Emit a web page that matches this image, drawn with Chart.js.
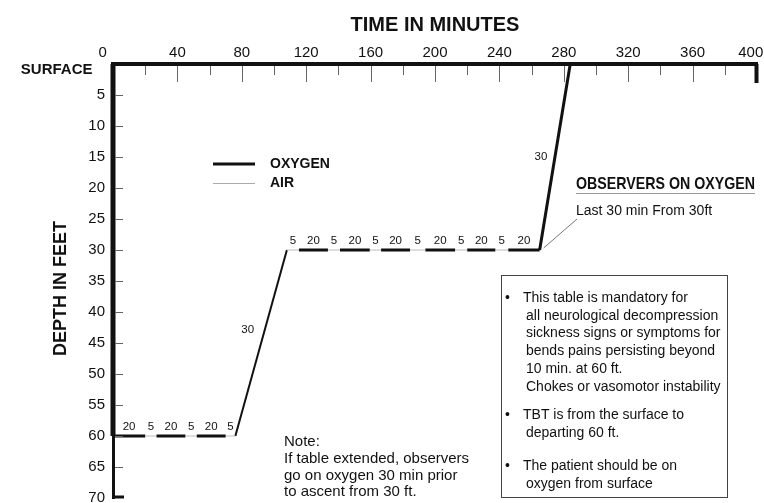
<!DOCTYPE html>
<html><head><meta charset="utf-8">
<script src="https://cdn.jsdelivr.net/npm/chart.js@4.4.0/dist/chart.umd.min.js"></script>
<style>html,body{margin:0;padding:0;background:#fff;}#wrap{width:764px;height:503px;position:relative;}</style>
</head><body><div id="wrap"><canvas id="c" width="764" height="503"></canvas></div>
<script>
const FONT = '"Liberation Sans", Arial, Helvetica, sans-serif';
// axes
const timeMin = 0, timeMax = 400, timeStep = 20, timeLabelEvery = 40;
const depthMin = 0, depthMax = 70, depthStep = 5;
const surfaceLabel = 'SURFACE';
const xTitle = 'TIME IN MINUTES';
const yTitle = 'DEPTH IN FEET';
// descent from surface to 60 ft
const descentTimes = [0, 0], descentDepths = [0, 60];
// 60 ft stop (phase boundaries in minutes, gas per phase, printed minutes)
const stop60Depth = 60;
const stop60Bounds = [0, 20, 27, 45, 52, 70, 76];
const stop60Gas = ['O2', 'AIR', 'O2', 'AIR', 'O2', 'AIR'];
const stop60Labels = ['20', '5', '20', '5', '20', '5'];
// 30 ft stop
const stop30Depth = 30;
const stop30Bounds = [108, 115.5, 133.5, 141, 159.5, 166.5, 184.5, 194, 212.5, 220, 237.5, 245.5, 265];
const stop30Gas = ['AIR', 'O2', 'AIR', 'O2', 'AIR', 'O2', 'AIR', 'O2', 'AIR', 'O2', 'AIR', 'O2'];
const stop30Labels = ['5', '20', '5', '20', '5', '20', '5', '20', '5', '20', '5', '20'];
// ascents
const ascent1Times = [76, 108], ascent1Depths = [60, 30], ascent1Label = '30';
const ascent2Times = [265, 284], ascent2Depths = [30, 0], ascent2Label = '30';
// legend / notes
const legendItems = ['OXYGEN', 'AIR'];
const observersTitle = 'OBSERVERS ON OXYGEN';
const observersSub = 'Last 30 min From 30ft';
const boxBullets = [
  ['This table is mandatory for', 'all neurological decompression', 'sickness signs or symptoms for', 'bends pains persisting beyond', '10 min. at 60 ft.', 'Chokes or vasomotor instability'],
  ['TBT is from the surface to', 'departing 60 ft.'],
  ['The patient should be on', 'oxygen from surface']
];
const noteLines = ['Note:', 'If table extended, observers', 'go on oxygen 30 min prior', 'to ascent from 30 ft.'];

// build line data
const oxygenData = [], airData = [];
function addPhases(bounds, gas, depth) {
  for (let i = 0; i < gas.length; i++) {
    const target = gas[i] === 'O2' ? oxygenData : airData;
    target.push({x: bounds[i], y: depth}, {x: bounds[i + 1], y: depth}, {x: bounds[i + 1], y: null});
  }
}
addPhases(stop60Bounds, stop60Gas, stop60Depth);
addPhases(stop30Bounds, stop30Gas, stop30Depth);
const toPts = (ts, ds) => ts.map((t, i) => ({x: t, y: ds[i]}));
const descentData = toPts(descentTimes, descentDepths);
const ascent1Data = toPts(ascent1Times, ascent1Depths);
const ascent2Data = toPts(ascent2Times, ascent2Depths);

const INK = '#111';

const overlay = {
  id: 'overlay',
  afterDraw(chart) {
    const ctx = chart.ctx, xs = chart.scales.x, ys = chart.scales.y, a = chart.chartArea;
    ctx.save();
    // inward ticks on time axis
    xs.ticks.forEach(t => {
      const v = t.value;
      if (v <= timeMin) return;
      const px = Math.round(xs.getPixelForValue(v)) + 0.5;
      if (v >= timeMax) {
        ctx.fillStyle = INK;
        ctx.fillRect(px - 3, a.top, 4, 19);
        return;
      }
      ctx.strokeStyle = '#666'; ctx.lineWidth = 1;
      ctx.beginPath(); ctx.moveTo(px, a.top + 2);
      ctx.lineTo(px, a.top + (v % timeLabelEvery === 0 ? 18 : 11)); ctx.stroke();
    });
    // inward ticks on depth axis
    ys.ticks.forEach(t => {
      const v = t.value;
      if (v <= depthMin) return;
      const py = Math.round(ys.getPixelForValue(v)) + 0.5;
      if (v >= depthMax) {
        ctx.fillStyle = INK;
        ctx.fillRect(a.left - 1, py - 3, 12, 3);
        return;
      }
      ctx.strokeStyle = '#666'; ctx.lineWidth = 1;
      ctx.beginPath(); ctx.moveTo(a.left + 2, py); ctx.lineTo(a.left + 10, py); ctx.stroke();
    });
    // phase minute labels
    ctx.fillStyle = INK; ctx.font = '11.5px ' + FONT; ctx.textAlign = 'center'; ctx.textBaseline = 'middle';
    const phaseLabels = (bounds, labels, depth) => {
      labels.forEach((lab, i) => {
        const px = xs.getPixelForValue((bounds[i] + bounds[i + 1]) / 2);
        const py = ys.getPixelForValue(depth) - 9;
        ctx.fillText(lab, px, py);
      });
    };
    phaseLabels(stop60Bounds, stop60Labels, stop60Depth);
    phaseLabels(stop30Bounds, stop30Labels, stop30Depth);
    // ascent labels
    const ascentLabel = (times, depths, lab, f, dx) => {
      const x0 = xs.getPixelForValue(times[0]), x1 = xs.getPixelForValue(times[1]);
      const y0 = ys.getPixelForValue(depths[0]), y1 = ys.getPixelForValue(depths[1]);
      ctx.fillText(lab, x0 + (x1 - x0) * f + dx, y0 + (y1 - y0) * f);
    };
    ascentLabel(ascent1Times, ascent1Depths, ascent1Label, 0.57, -17);
    ascentLabel(ascent2Times, ascent2Depths, ascent2Label, 0.5, -14);
    // legend
    ctx.textAlign = 'left';
    ctx.strokeStyle = INK; ctx.lineWidth = 3;
    ctx.beginPath(); ctx.moveTo(213, 164); ctx.lineTo(255, 164); ctx.stroke();
    ctx.strokeStyle = '#aaa'; ctx.lineWidth = 1;
    ctx.beginPath(); ctx.moveTo(213, 183.5); ctx.lineTo(255, 183.5); ctx.stroke();
    ctx.font = 'bold 14px ' + FONT; ctx.fillStyle = INK;
    ctx.fillText(legendItems[0], 270, 164);
    ctx.fillText(legendItems[1], 270, 183);
    // observers heading (condensed bold)
    ctx.save();
    ctx.font = 'bold 17px "Liberation Sans Narrow", ' + FONT;
    const w = ctx.measureText(observersTitle).width;
    ctx.translate(576, 184);
    ctx.scale(179 / w, 1);
    ctx.fillText(observersTitle, 0, 0);
    ctx.restore();
    ctx.strokeStyle = '#999'; ctx.lineWidth = 1;
    ctx.beginPath(); ctx.moveTo(576, 193.5); ctx.lineTo(755, 193.5); ctx.stroke();
    ctx.font = '14px ' + FONT; ctx.fillStyle = INK;
    ctx.fillText(observersSub, 576, 211);
    // leader line
    const ex = xs.getPixelForValue(stop30Bounds[stop30Bounds.length - 1]);
    const ey = ys.getPixelForValue(stop30Depth);
    ctx.strokeStyle = '#555'; ctx.lineWidth = 0.8;
    ctx.beginPath(); ctx.moveTo(ex + 4, ey - 2); ctx.lineTo(577, 219); ctx.stroke();
    // note box
    ctx.strokeStyle = '#444'; ctx.lineWidth = 1;
    ctx.strokeRect(501.5, 275.5, 226, 222);
    ctx.font = '14px ' + FONT; ctx.fillStyle = INK;
    const bulletY = [298, 415, 466];
    boxBullets.forEach((lines, bi) => {
      ctx.fillText('\u2022', 505, bulletY[bi]);
      lines.forEach((ln, li) => {
        ctx.fillText(ln, li === 0 ? 523 : 526, bulletY[bi] + li * 17.8);
      });
    });
    // note
    ctx.font = '15px ' + FONT;
    noteLines.forEach((ln, i) => ctx.fillText(ln, 284, 442 + i * 16.7));
    ctx.restore();
  }
};

new Chart(document.getElementById('c'), {
  type: 'line',
  data: {
    datasets: [
      {label: 'AIR', data: airData, borderColor: '#bbb', borderWidth: 1, pointRadius: 0, spanGaps: false, fill: false},
      {label: 'OXYGEN', data: oxygenData, borderColor: INK, borderWidth: 3, pointRadius: 0, spanGaps: false, fill: false, borderCapStyle: 'butt'},
      {label: 'Descent', data: descentData, borderColor: INK, borderWidth: 5, pointRadius: 0, fill: false, clip: 5},
      {label: 'Ascent 60-30', data: ascent1Data, borderColor: INK, borderWidth: 2, pointRadius: 0, fill: false},
      {label: 'Ascent 30-0', data: ascent2Data, borderColor: INK, borderWidth: 3, pointRadius: 0, fill: false}
    ]
  },
  options: {
    responsive: false, animation: false, devicePixelRatio: 1,
    layout: {padding: {top: 0, left: 0, right: 7, bottom: 5}},
    plugins: {legend: {display: false}, tooltip: {enabled: false}},
    scales: {
      x: {
        type: 'linear', position: 'top', min: timeMin, max: timeMax,
        ticks: {
          stepSize: timeStep, autoSkip: false, maxRotation: 0, padding: 2, color: INK,
          font: {family: FONT, size: 15},
          callback: v => v % timeLabelEvery === 0 ? (v === timeMin ? '0     ' : v === timeMax ? String(v) + '   ' : String(v)) : ''
        },
        grid: {display: true, drawOnChartArea: false, drawTicks: false},
        border: {display: true, width: 4, color: INK},
        title: {display: true, text: xTitle, color: INK, font: {family: FONT, size: 20, weight: 'bold'}, padding: {top: 13, bottom: 0}},
        afterFit: s => { s.height = 64; s.paddingLeft = 0; s.paddingRight = 0; }
      },
      y: {
        type: 'linear', position: 'left', reverse: true, min: depthMin, max: depthMax,
        ticks: {
          stepSize: depthStep, autoSkip: false, padding: 8, color: INK,
          font: c => (c.tick && c.tick.value === 0) ? {family: FONT, size: 15, weight: 'bold', lineHeight: 0.8} : {family: FONT, size: 15},
          callback: v => v === 0 ? ['', surfaceLabel + '   '] : String(v)
        },
        grid: {display: true, drawOnChartArea: false, drawTicks: false},
        border: {display: true, width: 3, color: INK},
        title: {display: true, text: yTitle + '   ', color: INK, font: {family: FONT, size: 18, weight: 'bold'}, padding: {top: 50, bottom: 0}},
        afterFit: s => { s.width = 113; s.paddingTop = 0; s.paddingBottom = 0; }
      }
    }
  },
  plugins: [overlay]
});
</script></body></html>
